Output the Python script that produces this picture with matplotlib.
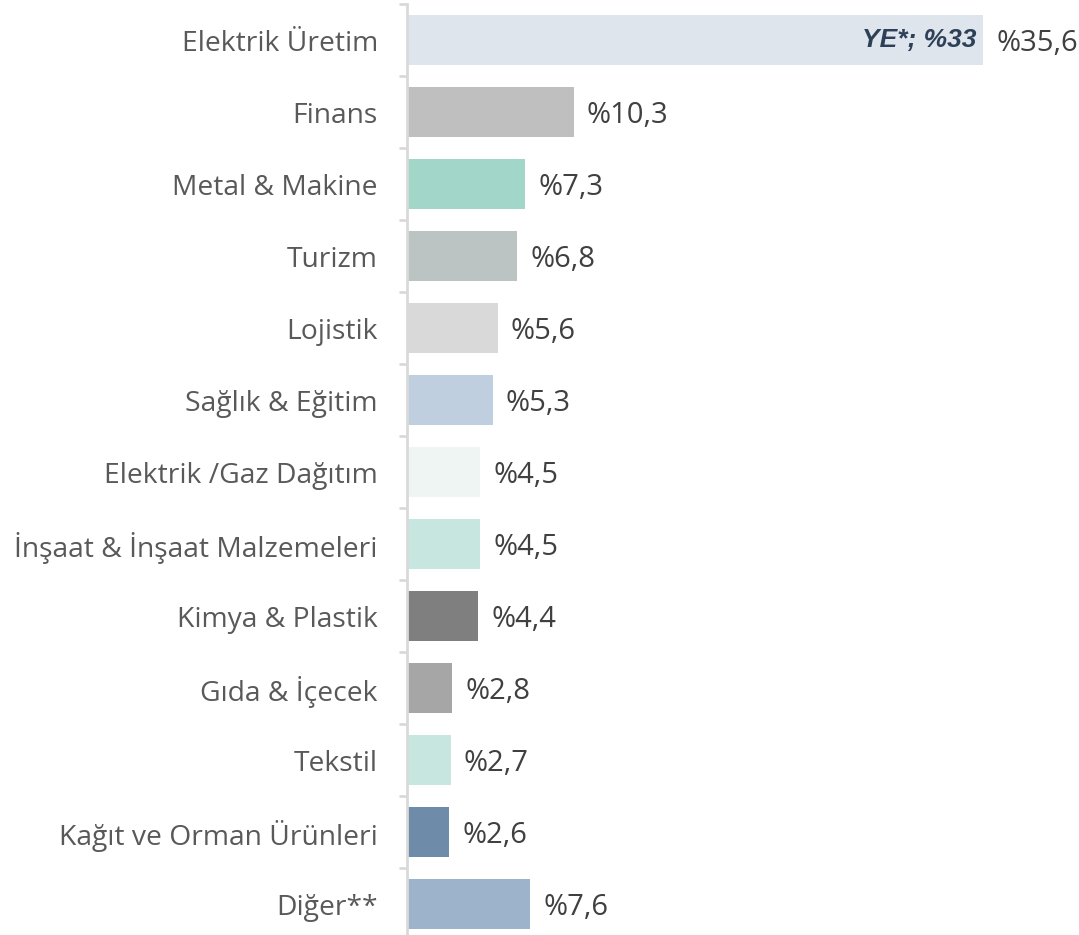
import matplotlib
matplotlib.use("Agg")
import matplotlib.pyplot as plt
from matplotlib.patches import Rectangle
import numpy as np

categories = ["Elektrik Üretim", "Finans", "Metal & Makine", "Turizm", "Lojistik",
              "Sağlık & Eğitim", "Elektrik /Gaz Dağıtım", "İnşaat & İnşaat Malzemeleri",
              "Kimya & Plastik", "Gıda & İçecek", "Tekstil", "Kağıt ve Orman Ürünleri",
              "Diğer**"]
values = [35.6, 10.3, 7.3, 6.8, 5.6, 5.3, 4.5, 4.5, 4.4, 2.8, 2.7, 2.6, 7.6]
value_labels = ["%35,6", "%10,3", "%7,3", "%6,8", "%5,6", "%5,3", "%4,5", "%4,5",
                "%4,4", "%2,8", "%2,7", "%2,6", "%7,6"]
colors = ["#DEE5ED", "#BFBFBF", "#A2D6C9", "#BCC3C3", "#D9D9D9", "#BFCFE0", "#EEF5F3",
          "#C8E6E0", "#7F7F7F", "#A6A6A6", "#C8E6E0", "#6E8CAA", "#9DB3CB"]
inner_label = "YE*; %33"

plt.rcParams['hatch.linewidth'] = 1.2
plt.rcParams['font.family'] = ['Open Sans', 'DejaVu Sans']

W, H = 1079, 935
fig = plt.figure(figsize=(W / 100, H / 100), dpi=100)
fig.patch.set_facecolor('#F1F1F1')
bg = Rectangle((0, 0), 1, 1, transform=fig.transFigure, facecolor='#F1F1F1',
               edgecolor='white', hatch='/' * 15, linewidth=0, zorder=-10)
fig.add_artist(bg)

left_px, top_px, step_px = 407, 4, 72
n = len(categories)
xmax = 41.5
ax_w = xmax * (576 / 35.6)
ax_h = n * step_px
ax = fig.add_axes([left_px / W, (H - top_px - ax_h) / H, ax_w / W, ax_h / H])
ax.patch.set_alpha(0)

y = np.arange(n)
ax.barh(y, values, height=0.69, color=colors, zorder=2)
ax.set_xlim(0, xmax)
ax.set_ylim(n - 0.5, -0.5)

for i, (v, lab) in enumerate(zip(values, value_labels)):
    ax.annotate(lab, xy=(v, i), xytext=(9.5, 0), textcoords='offset points',
                ha='left', va='center_baseline', fontsize=21, color='#404040')

ax.annotate(inner_label, xy=(values[0], 0), xytext=(-4.5, 0), textcoords='offset points',
            ha='right', va='center', fontsize=19, fontweight='bold', fontstyle='italic',
            color='#2E4057', family=['Liberation Sans', 'DejaVu Sans'])

for s in ['top', 'right', 'bottom']:
    ax.spines[s].set_visible(False)
ax.spines['left'].set_color('#D9D9D9')
ax.spines['left'].set_linewidth(2)
ax.set_xticks([])
ax.set_yticks(y)
ax.set_yticklabels(categories, fontsize=20.3, color='#595959')
ax.tick_params(axis='y', which='major', length=0, pad=21)
ax.set_yticks(np.arange(-0.5, n, 1.0), minor=True)
ax.tick_params(axis='y', which='minor', length=6, width=2, color='#D9D9D9')

fig.savefig("out.png", dpi=100, facecolor=fig.get_facecolor())
